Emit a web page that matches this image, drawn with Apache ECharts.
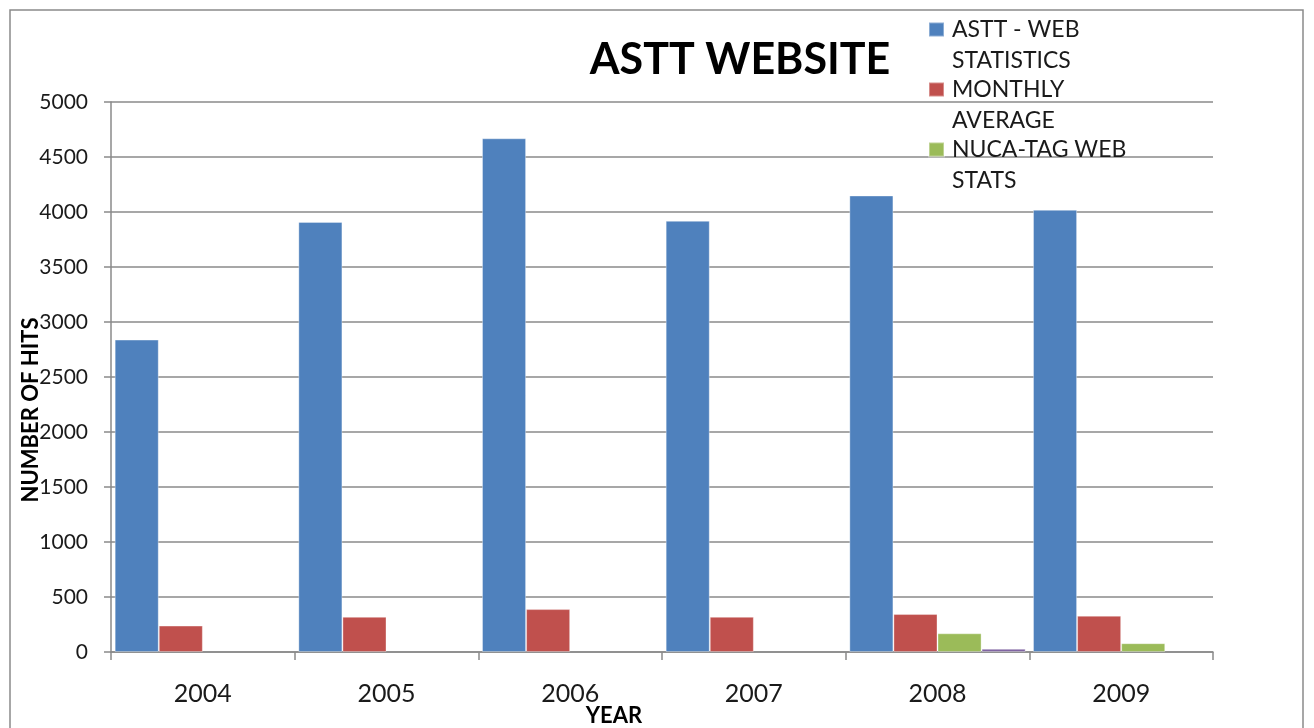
<!DOCTYPE html>
<html><head><meta charset="utf-8">
<script src="https://cdn.jsdelivr.net/npm/echarts@6/dist/echarts.min.js"></script>
<style>html,body{margin:0;padding:0;background:#fff}#c{width:1314px;height:728px}</style>
</head><body><div id="c"></div>
<script>
var years = ['2004','2005','2006','2007','2008','2009'];
var seriesNames = ['ASTT - WEB STATISTICS','MONTHLY AVERAGE','NUCA-TAG WEB STATS','Series4'];
var legendLines = {'ASTT - WEB STATISTICS':'ASTT - WEB\nSTATISTICS','MONTHLY AVERAGE':'MONTHLY\nAVERAGE','NUCA-TAG WEB STATS':'NUCA-TAG WEB\nSTATS'};
var asttWeb = [2840, 3910, 4670, 3920, 4150, 4020];
var monthlyAvg = [240, 320, 390, 320, 345, 330];
var nucaTag = [null, null, null, null, 170, 80];
var series4 = [null, null, null, null, 30, null];
var colors = ['#4F81BD','#C0504D','#9BBB59','#8064A2'];
var F = 'Lato, "Open Sans", sans-serif';
var chart = echarts.init(document.getElementById('c'));
var data = [asttWeb, monthlyAvg, nucaTag, series4];
chart.setOption({
  animation: false,
  color: colors,
  title: {text: 'ASTT WEBSITE', left: 735, top: 34, textAlign: 'center',
    textStyle: {fontFamily: F, fontWeight: 'bold', fontSize: 43, color: '#000'}},
  legend: {orient: 'vertical', left: 928, top: -17, padding: 0, itemGap: -33,
    itemWidth: 15, itemHeight: 14, icon: 'rect',
    data: seriesNames.slice(0,3),
    formatter: function(n){ return ' \n' + legendLines[n]; },
    textStyle: {fontFamily: F, fontSize: 23, color: '#1a1a1a', lineHeight: 31, padding: [0,0,0,3]}},
  grid: {left: 111, right: 101, top: 102, bottom: 76, containLabel: false, outerBoundsMode: 'none'},
  xAxis: {type: 'category', data: years,
    name: 'YEAR', nameLocation: 'middle', nameGap: 53, nameMoveOverlap: false,
    nameTextStyle: {fontFamily: F, fontWeight: 'bold', fontSize: 22, color: '#000', padding: [0, 96, 0, 0]},
    axisLine: {lineStyle: {color: '#8a8a8a', width: 1.5}},
    axisTick: {show: true, alignWithLabel: false, length: 8, lineStyle: {color: '#8a8a8a', width: 1.5}},
    axisLabel: {margin: 29, fontFamily: F, fontSize: 25, color: '#1a1a1a'}},
  yAxis: {type: 'value', min: 0, max: 5000, interval: 500,
    name: 'NUMBER OF HITS', nameLocation: 'middle', nameGap: 69, nameMoveOverlap: false,
    nameTextStyle: {fontFamily: F, fontWeight: 'bold', fontSize: 22, color: '#000', padding: [0, 66, 0, 0]},
    axisLine: {show: true, lineStyle: {color: '#8a8a8a', width: 1.5}},
    axisTick: {show: true, length: 7, lineStyle: {color: '#8a8a8a', width: 1.5}},
    splitLine: {lineStyle: {color: '#8a8a8a', width: 1.5}},
    axisLabel: {margin: 23, fontFamily: F, fontSize: 21, color: '#1a1a1a', formatter: function(v){ return String(v); }}},
  graphic: [{type: 'rect', shape: {x: 10, y: 10, width: 1293, height: 730},
    style: {fill: 'none', stroke: '#8a8a8a', lineWidth: 1.5}, silent: true}],
  series: seriesNames.map(function(n, i){
    return {name: n, type: 'bar', data: data[i], barGap: '0%', barCategoryGap: '4%',
      itemStyle: {color: colors[i], borderColor: 'rgba(255,255,255,0.35)', borderWidth: 1}};
  })
});
</script></body></html>
